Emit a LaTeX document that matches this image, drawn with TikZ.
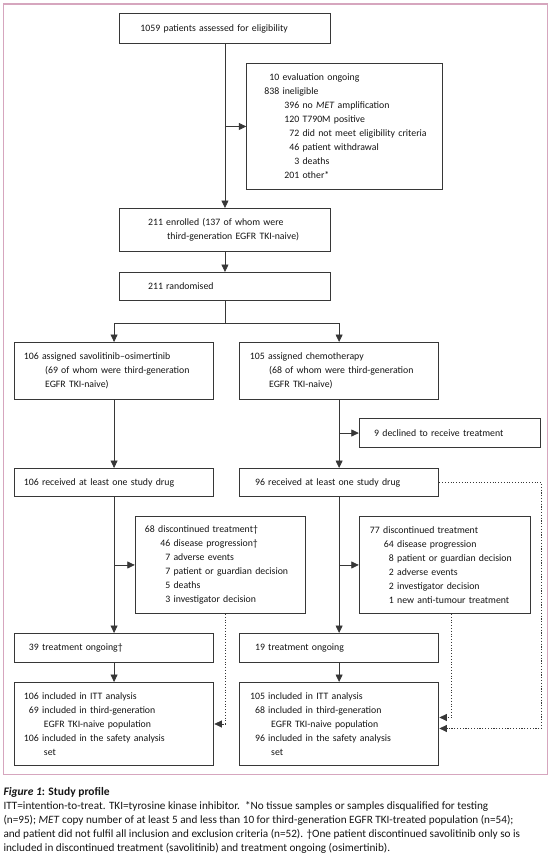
\documentclass[tikz,border=0pt]{standalone}
\usepackage{fontspec}
\setmainfont{Carlito}
\usetikzlibrary{arrows.meta,calc}
\definecolor{framec}{RGB}{214,166,190}
\definecolor{ln}{RGB}{55,55,55}
\definecolor{txt}{RGB}{20,20,20}
\newcommand\T[1]{\hspace*{#1pt}}
\newcommand\R[2]{\makebox[#1pt][r]{#2}}
\begin{document}
\begin{tikzpicture}[x=1pt,y=-1pt,
  font=\fontsize{9.8}{14}\selectfont,
  box/.style={draw=ln, line width=0.95pt, anchor=north west, inner xsep=0pt,
    inner ysep=0pt, align=left, text=txt},
  arr/.style={draw=ln, line width=0.8pt, -{Triangle[length=7.5pt,width=7pt]}},
  dotarr/.style={draw=ln, line width=0.7pt, dash pattern=on 1.1pt off 1.7pt,
    -{Triangle[length=7.5pt,width=7pt]}},
  plain/.style={draw=ln, line width=0.8pt}]
\useasboundingbox (0,0) rectangle (554,867);
\draw[framec, line width=1.1pt] (3.5,4) rectangle (547.5,774.5);

\node[box, text width=211pt, minimum height=29.4pt] (b1) at (119,13.3)
  {\T{21}1059 patients assessed for eligibility};
\node[box, text width=195.3pt, minimum height=126pt] (excl) at (246.3,63)
  {\R{32.5}{10} evaluation ongoing\\
   \R{32.5}{838} ineligible\\
   \R{52.5}{396} no \textit{MET} amplification\\
   \R{52.5}{120} T790M positive\\
   \R{52.5}{72} did not meet eligibility criteria\\
   \R{52.5}{46} patient withdrawal\\
   \R{52.5}{3} deaths\\
   \R{52.5}{201} other*};
\node[box, text width=211pt, minimum height=43pt] (enr) at (119,208)
  {\T{28.6}211 enrolled (137 of whom were\\
   \T{47.7}third-generation EGFR TKI-naive)};
\node[box, text width=211pt, minimum height=28pt] (rand) at (119,272)
  {\T{28.6}211 randomised};
\node[box, text width=199.6pt, minimum height=57pt] (aL) at (13.8,342)
  {\T{9.6}106 assigned savolitinib–osimertinib\\
   \T{30.8}(69 of whom were third-generation\\
   \T{30.8}EGFR TKI-naive)};
\node[box, text width=199.5pt, minimum height=57pt] (aR) at (238.9,342)
  {\T{10.6}105 assigned chemotherapy\\
   \T{29.7}(68 of whom were third-generation\\
   \T{29.7}EGFR TKI-naive)};
\node[box, text width=181.6pt, minimum height=28.5pt] (dec) at (358.8,418.3)
  {\T{14.9}9 declined to receive treatment};
\node[box, text width=199.6pt, minimum height=28pt] (rL) at (13.8,468)
  {\T{9.6}106 received at least one study drug};
\node[box, text width=199.5pt, minimum height=28pt] (rR) at (238.9,468)
  {\R{25.6}{96} received at least one study drug};
\node[box, text width=169.9pt, minimum height=97pt] (dL) at (134.8,516)
  {\R{19.6}{68} discontinued treatment†\\
   \R{35}{46} disease progression†\\
   \R{35}{7} adverse events\\
   \R{35}{7} patient or guardian decision\\
   \R{35}{5} deaths\\
   \R{35}{3} investigator decision};
\node[box, text width=170.9pt, minimum height=97pt] (dR) at (358.8,516)
  {\R{20.6}{77} discontinued treatment\\
   \R{34.6}{64} disease progression\\
   \R{34.6}{8} patient or guardian decision\\
   \R{34.6}{2} adverse events\\
   \R{34.6}{2} investigator decision\\
   \R{34.6}{1} new anti-tumour treatment};
\node[box, text width=199.6pt, minimum height=29pt] (oL) at (13.8,633)
  {\R{24.6}{39} treatment ongoing†};
\node[box, text width=199.5pt, minimum height=29pt] (oR) at (238.9,633)
  {\R{25.6}{19} treatment ongoing};
\node[box, text width=199.6pt, minimum height=83pt] (fL) at (13.8,682)
  {\R{24.6}{106} included in ITT analysis\\
   \R{24.6}{69} included in third-generation\\
   \T{29.7}EGFR TKI-naive population\\
   \R{24.6}{106} included in the safety analysis\\
   \T{29.7}set};
\node[box, text width=199.5pt, minimum height=83pt] (fR) at (238.9,682)
  {\R{25.6}{105} included in ITT analysis\\
   \R{25.6}{68} included in third-generation\\
   \T{31.8}EGFR TKI-naive population\\
   \R{25.6}{96} included in the safety analysis\\
   \T{31.8}set};

% connectors
\draw[arr] (b1.south) -- (enr.north);
\draw[arr] (b1.south |- excl.west) -- (excl.west);
\draw[arr] (enr.south) -- (rand.north);
\coordinate (sp) at ($(rand.south)+(0,22)$);
\draw[plain] (rand.south) -- (sp);
\draw[arr] (sp) -| (aL.north);
\draw[arr] (sp) -| (aR.north);
\draw[arr] (aL.south) -- (rL.north);
\draw[arr] (aR.south) -- (rR.north);
\draw[arr] (aR.south |- dec.west) -- (dec.west);
\draw[arr] (rL.south) -- (oL.north);
\draw[arr] (rL.south |- dL.west) -- (dL.west);
\draw[arr] (rR.south) -- (oR.north);
\draw[arr] (rR.south |- dR.west) -- (dR.west);
\draw[arr] (oL.south) -- (fL.north);
\draw[arr] (oR.south) -- (fR.north);
\draw[dotarr] ([xshift=5.3pt]dL.south) |- (fL.east);
\draw[dotarr] ([xshift=7pt]dR.south) |- ([yshift=6.5pt]fR.east);
\draw[dotarr] (rR.east) -- (rR.east -| dec.east)
  -- ([yshift=-4.5pt]fR.east -| dec.east) -- ([yshift=-4.5pt]fR.east);

% caption
\node[anchor=west, inner sep=0pt, text=txt, font=\fontsize{11.5}{14}\selectfont] (cap) at (3.3,792)
  {\textbf{\textit{Figure 1}: Study profile}};
\node[anchor=north west, inner sep=0pt, align=left, text=txt, font=\fontsize{11.2}{14}\selectfont] (captxt) at (3.3,801)
  {ITT=intention-to-treat. TKI=tyrosine kinase inhibitor.\ \ *No tissue samples or samples disqualified for testing\\
   (n=95); \textit{MET} copy number of at least 5 and less than 10 for third-generation EGFR TKI-treated population (n=54);\\
   and patient did not fulfil all inclusion and exclusion criteria (n=52). †One patient discontinued savolitinib only so is\\
   included in discontinued treatment (savolitinib) and treatment ongoing (osimertinib).};
\end{tikzpicture}
\end{document}
